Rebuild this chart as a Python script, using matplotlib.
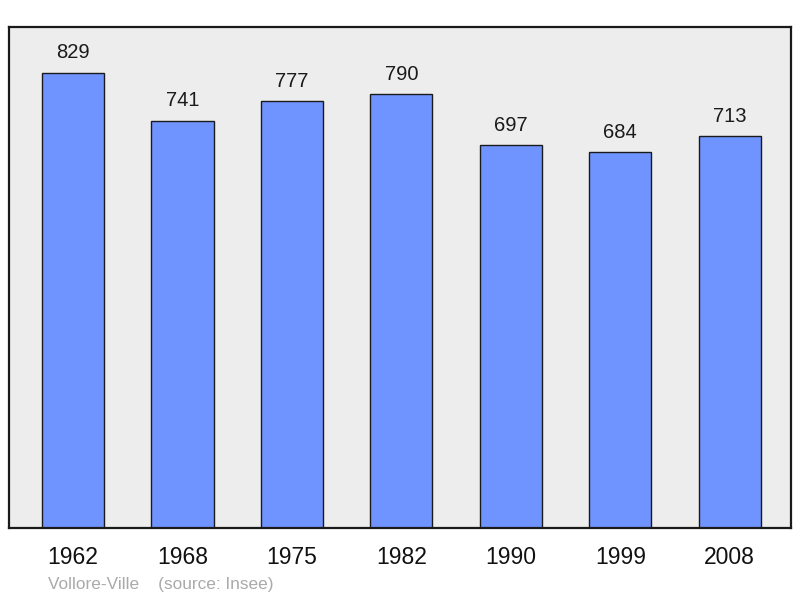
import matplotlib
matplotlib.use("Agg")
import matplotlib.pyplot as plt

years = ["1962", "1968", "1975", "1982", "1990", "1999", "2008"]
population = [829, 741, 777, 790, 697, 684, 713]
place = "Vollore-Ville"
source = "(source: Insee)"

plt.rcParams['font.family'] = ['Liberation Sans', 'DejaVu Sans']

fig = plt.figure(figsize=(8, 5.98), dpi=100)
ax = fig.add_axes([9/800, 70/598, 782/800, 501/598])
ax.set_facecolor('#ededed')
x = list(range(len(years)))
ax.bar(x, population, width=0.567, color='#7094ff', edgecolor='#1a1a1a', linewidth=1.0, zorder=2)
for xi, v in zip(x, population):
    ax.annotate(str(v), (xi, v), xytext=(0, 7.5), textcoords='offset points',
                ha='center', va='bottom', fontsize=14.5, color='#1a1a1a')
ax.set_xlim(-0.585, 6.56)
ax.set_ylim(0, 829 * 1.1)
ax.set_yticks([])
ax.set_xticks(x)
ax.set_xticklabels(years, fontsize=16.5, color='#111111')
ax.tick_params(axis='x', length=0, pad=13)
for s in ax.spines.values():
    s.set_linewidth(1.6)
    s.set_color('#1a1a1a')
fig.text(48/800, 1 - 584/598, place + "    " + source, fontsize=12.4, color='#aaaaaa', va='center', ha='left')
fig.savefig("out.png", dpi=100)
